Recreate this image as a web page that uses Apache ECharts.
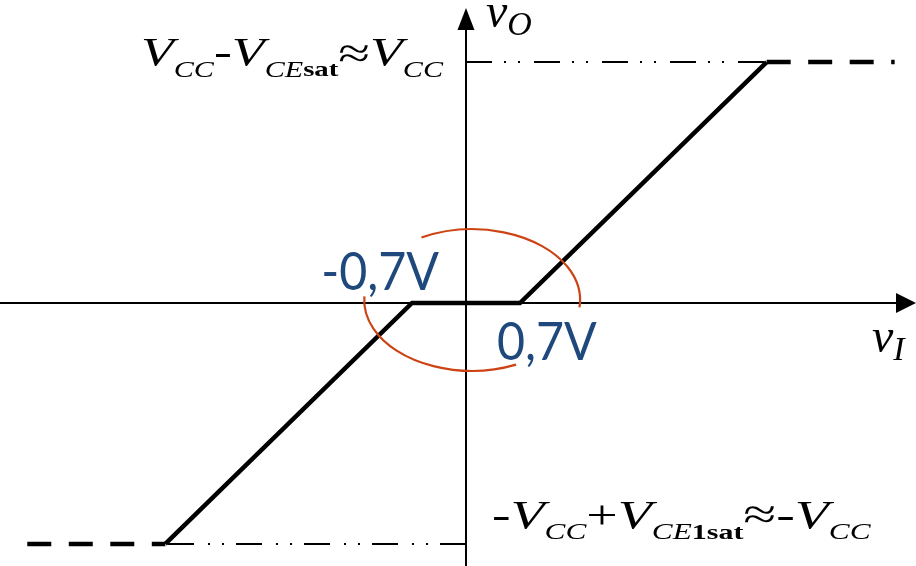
<!DOCTYPE html>
<html>
<head>
<meta charset="utf-8">
<script src="https://cdn.jsdelivr.net/npm/echarts@6/dist/echarts.min.js"></script>
<style>
  html, body { margin: 0; padding: 0; background: #ffffff; }
  #chart { width: 916px; height: 566px; }
</style>
</head>
<body>
<div id="chart"></div>
<script>
// Class-B push-pull output stage: transfer characteristic vO = f(vI)

// Breakpoints of the characteristic (V): dead zone of ±0.7 V, saturation at ±Vcc
const transferCurve   = [[-3.9, -3.2], [-0.7, 0], [0.7, 0], [3.9, 3.2]];
// Saturation continues past the knees (dashed)
const negSatExtension = [[-5.69, -3.2], [-3.9, -3.2]];
const posSatExtension = [[3.9, 3.2], [5.56, 3.2]];
// Guide lines from the vO axis to the knees (dash-dot)
const posSatGuide     = [[0, 3.2], [3.9, 3.2]];
const negSatGuide     = [[0, -3.2], [-3.9, -3.2]];
// Axis extents
const vIRange = [-6.044, 5.707];
const vORange = [-3.493, 3.772];
// Dead-zone marker ellipse (data units) and its two open arcs (degrees)
const ringCenter = [0.08, 0.04];
const ringRadii  = [1.40, 0.94];
const ringArcs   = [[-118, 6], [66, 183]];
// Threshold labels
const thresholdLabels = ['-0,7V', '0,7V'];

const serif = '"Liberation Serif", "Times New Roman", serif';
const black = '#000000';

const chart = echarts.init(document.getElementById('chart'), null, { renderer: 'canvas' });

function axisCommon(range, arrowSize) {
  return {
    type: 'value',
    min: range[0],
    max: range[1],
    axisLine: {
      onZero: true,
      symbol: ['none', 'triangle'],
      symbolSize: arrowSize,
      lineStyle: { color: black, width: 2 }
    },
    axisTick: { show: false },
    axisLabel: { show: false },
    splitLine: { show: false }
  };
}

const lineBase = {
  type: 'line',
  symbol: 'none',
  silent: true,
  animation: false
};

chart.setOption({
  animation: false,
  backgroundColor: '#ffffff',
  grid: { left: 0, top: 19, width: 906, height: 547, outerBoundsMode: 'none' },
  xAxis: axisCommon(vIRange, [20, 20]),
  yAxis: axisCommon(vORange, [17, 22]),
  series: [
    Object.assign({}, lineBase, {
      name: 'guide+', data: posSatGuide, z: 3,
      lineStyle: { color: black, width: 2, type: [26, 12, 2, 12, 2, 14] }
    }),
    Object.assign({}, lineBase, {
      name: 'guide-', data: negSatGuide, z: 3,
      lineStyle: { color: black, width: 2, type: [26, 12, 2, 12, 2, 14] }
    }),
    Object.assign({}, lineBase, {
      name: 'sat-', data: negSatExtension, z: 4,
      lineStyle: { color: black, width: 4.5, type: [24, 17.5] }
    }),
    Object.assign({}, lineBase, {
      name: 'sat+', data: posSatExtension, z: 4,
      lineStyle: { color: black, width: 4.5, type: [24, 17.5] }
    }),
    Object.assign({}, lineBase, {
      name: 'vO', data: transferCurve, z: 5,
      lineStyle: { color: black, width: 4.5, cap: 'butt', join: 'miter' }
    }),
    {
      type: 'custom',
      name: 'deadzone',
      silent: true,
      z: 6,
      clip: false,
      data: [ringCenter],
      renderItem: function (params, api) {
        const c = api.coord(ringCenter);
        const s = api.size(ringRadii);
        const rx = s[0], ry = s[1];
        const rad = Math.PI / 180;
        const children = ringArcs.map(function (arc) {
          const a0 = arc[0] * rad, a1 = arc[1] * rad;
          const x0 = c[0] + rx * Math.cos(a0), y0 = c[1] + ry * Math.sin(a0);
          const x1 = c[0] + rx * Math.cos(a1), y1 = c[1] + ry * Math.sin(a1);
          const large = (arc[1] - arc[0]) > 180 ? 1 : 0;
          return {
            type: 'path',
            shape: { pathData: 'M' + x0 + ' ' + y0 + ' A' + rx + ' ' + ry + ' 0 ' + large + ' 1 ' + x1 + ' ' + y1 },
            style: { stroke: '#CC4314', lineWidth: 2.2, fill: 'none' }
          };
        });
        return { type: 'group', children: children };
      }
    }
  ]
});

// Annotations placed from the axis scale
const px = function (p) { return chart.convertToPixel({ xAxisIndex: 0, yAxisIndex: 0 }, p); };
const origin = px([0, 0]);
const topKnee = px(posSatGuide[0]);
const botKnee = px(negSatGuide[0]);
const xEnd = px([vIRange[1], 0]);
const yEnd = px([0, vORange[1]]);

const satRich = function (apHeight) {
  return {
    V:  { fontFamily: serif, fontStyle: 'italic', fontSize: 41, lineHeight: 56, height: 41, fill: black },
    m:  { fontFamily: serif, fontSize: 41, lineHeight: 56, height: 41, fill: black },
    s:  { fontFamily: serif, fontStyle: 'italic', fontSize: 23, lineHeight: 23, height: 23, verticalAlign: 'bottom', fill: black },
    b:  { fontFamily: serif, fontWeight: 'bold', fontSize: 22, lineHeight: 23, height: 23, verticalAlign: 'bottom', fill: black },
    ap: { fontFamily: serif, fontSize: 44, lineHeight: apHeight, height: apHeight, verticalAlign: 'bottom', fill: black }
  };
};

const varRich = {
  v:   { fontFamily: serif, fontStyle: 'italic', fontSize: 48, lineHeight: 48, fill: black },
  sub: { fontFamily: serif, fontStyle: 'italic', fontSize: 34, lineHeight: 24, height: 24, verticalAlign: 'bottom', fill: black }
};

const blueStyle = {
  fontFamily: 'Lato, "Noto Sans", sans-serif',
  fontSize: 52,
  fill: '#1F497D'
};

chart.setOption({
  graphic: [
    {
      type: 'text', silent: true, z: 10,
      x: origin[0] - 23, y: topKnee[1] - 8, scaleX: 1.31,
      style: {
        text: '{V|V}{s|CC}{m|-}{V|V}{s|CE}{b|sat}{ap|≈}{V|V}{s|CC}',
        rich: satRich(52),
        align: 'right', verticalAlign: 'middle'
      }
    },
    {
      type: 'text', silent: true, z: 10,
      x: origin[0] + 26, y: botKnee[1] - 27, scaleX: 1.36,
      style: {
        text: '{m|-}{V|V}{s|CC}{m|+}{V|V}{s|CE}{b|1sat}{ap|≈}{m|-}{V|V}{s|CC}',
        rich: satRich(56),
        align: 'left', verticalAlign: 'middle'
      }
    },
    {
      type: 'text', silent: true, z: 10,
      x: origin[0] + 20, y: yEnd[1] - 5,
      style: { text: '{v|v}{sub|O}', rich: varRich, align: 'left', verticalAlign: 'middle' }
    },
    {
      type: 'text', silent: true, z: 10,
      x: xEnd[0] - 34, y: origin[1] + 36,
      style: { text: '{v|v}{sub|I}', rich: varRich, align: 'left', verticalAlign: 'middle' }
    },
    {
      type: 'text', silent: true, z: 10,
      x: origin[0] - 27, y: origin[1] - 30, scaleX: 0.93,
      style: Object.assign({ text: thresholdLabels[0], align: 'right', verticalAlign: 'middle' }, blueStyle)
    },
    {
      type: 'text', silent: true, z: 10,
      x: origin[0] + 31, y: origin[1] + 40, scaleX: 0.93,
      style: Object.assign({ text: thresholdLabels[1], align: 'left', verticalAlign: 'middle' }, blueStyle)
    }
  ]
});
</script>
</body>
</html>
